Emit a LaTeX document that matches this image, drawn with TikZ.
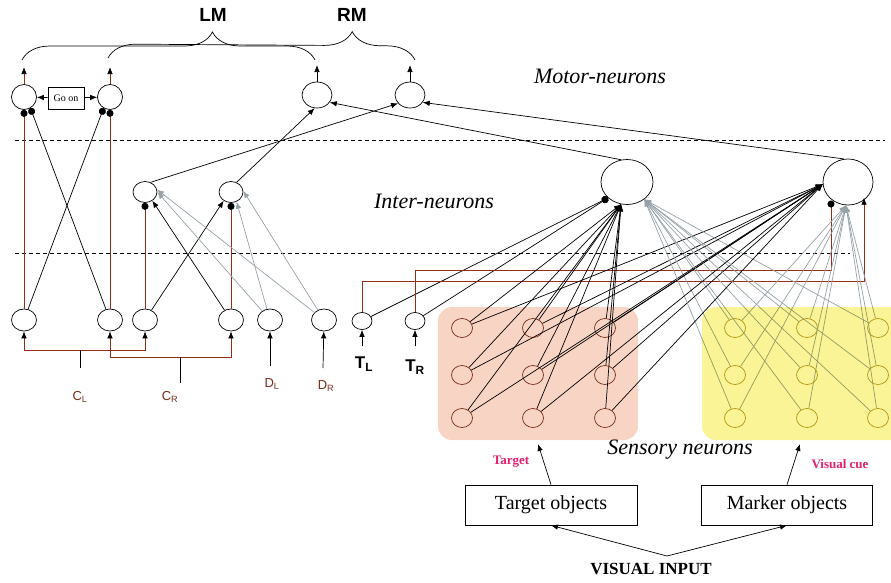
\documentclass[tikz,border=0pt]{standalone}
\usepackage{fontspec}
\setmainfont{Liberation Serif}
\setsansfont{Liberation Sans}
\usetikzlibrary{shapes.geometric,arrows.meta,decorations.pathreplacing}

\definecolor{synred}{RGB}{150,45,25}
\definecolor{syngray}{RGB}{150,162,168}
\definecolor{pinkbg}{RGB}{248,212,196}
\definecolor{yellowbg}{RGB}{250,244,150}
\definecolor{olivecell}{RGB}{185,155,30}
\definecolor{browncell}{RGB}{120,45,25}
\definecolor{cuepink}{RGB}{228,30,110}

\begin{document}
\begin{tikzpicture}[x=1pt, y=-1pt, line width=0.7pt,
    >={Latex[length=7pt,width=5.5pt,black]},
    neuron/.style={draw, ellipse, inner sep=0pt, minimum width=25pt, minimum height=22pt},
    small/.style={neuron, minimum width=20pt, minimum height=17pt},
    tgtcell/.style={draw=browncell, ellipse, inner sep=0pt, minimum width=21pt, minimum height=19pt},
    mrkcell/.style={draw=olivecell, ellipse, inner sep=0pt, minimum width=21pt, minimum height=19pt},
    redline/.style={draw=synred},
    grayline/.style={draw=syngray, >={Latex[length=7pt,width=5.5pt,syngray]}},
    inhib/.style={-{Circle[length=7pt,black]}},
    layer/.style={font=\itshape\fontsize{22}{26}\selectfont},
    inlabel/.style={font=\sffamily\fontsize{13}{15}\selectfont, text=browncell},
    tlabel/.style={font=\sffamily\bfseries\fontsize{17}{20}\selectfont},
    cue/.style={font=\bfseries\fontsize{13}{15}\selectfont, text=cuepink},
    objbox/.style={draw, rectangle, minimum height=40pt, font=\fontsize{20}{24}\selectfont}]
    \useasboundingbox (0,0) rectangle (891,582);

    % Nodes
    \node[fill=pinkbg, rounded corners=14pt, inner sep=0pt, minimum width=200pt, minimum height=133pt] (tbox) at (538,373.5) {};

    \node[neuron, minimum height=25pt] (m1) at (24,97) {};
    \node[neuron, minimum height=25pt] (m2) at (110,97) {};
    \node[neuron, minimum width=30pt, minimum height=26pt] (m3) at (317,95) {};
    \node[neuron, minimum width=30pt, minimum height=26pt] (m4) at (410,95) {};
    \node[draw, rectangle, minimum width=36pt, minimum height=22pt, font=\fontsize{10}{12}\selectfont] (goon) at (66,98) {Go on};

    \node[neuron, minimum width=24pt, minimum height=21pt] (s1) at (145,192) {};
    \node[neuron, minimum width=24pt, minimum height=21pt] (s2) at (231,192) {};
    \node[neuron, minimum width=52pt, minimum height=45pt] (b1) at (627,182) {};
    \node[neuron, minimum width=50pt, minimum height=46pt] (b2) at (848,182) {};

    \node[neuron] (c1) at (24,320) {};
    \node[neuron] (c2) at (110,320) {};
    \node[neuron] (c3) at (145,320) {};
    \node[neuron] (c4) at (231,320) {};
    \node[neuron] (dl) at (270,320) {};
    \node[neuron] (dr) at (324,320) {};
    \node[small] (tl) at (362,321) {};
    \node[small] (tr) at (415,321) {};

    \foreach \r/\y in {1/328,2/375,3/418} {
        \foreach \c/\x in {1/462,2/533,3/605}
            \node[tgtcell] (t\r\c) at (\x,\y) {};
        \foreach \c/\x in {1/735,2/807,3/878}
            \node[mrkcell] (y\r\c) at (\x,\y) {};
    }

    \node[font=\sffamily\bfseries\fontsize{19}{22}\selectfont] (lm) at (213,15) {LM};
    \node[font=\sffamily\bfseries\fontsize{19}{22}\selectfont] (rm) at (352,15) {RM};
    \node[layer] (motorlab) at (600,76) {Motor-neurons};
    \node[layer] (interlab) at (434,201) {Inter-neurons};
    \node[layer] (senslab) at (680,450) {Sensory neurons};

    \node[inlabel] (cllab) at (80,397) {C\textsubscript{L}};
    \node[inlabel] (crlab) at (170,397) {C\textsubscript{R}};
    \node[inlabel] (dllab) at (272,384) {D\textsubscript{L}};
    \node[inlabel] (drlab) at (326,386) {D\textsubscript{R}};
    \node[tlabel] (tllab) at (364,364) {T\textsubscript{L}};
    \node[tlabel] (trlab) at (415,367) {T\textsubscript{R}};

    \node[objbox, minimum width=172pt] (tobj) at (551,505) {Target objects};
    \node[objbox, minimum width=171pt] (mobj) at (787,505) {Marker objects};
    \node[cue] (tcue) at (511,462) {Target};
    \node[cue] (mcue) at (840,464) {Visual cue};
    \node[font=\bfseries\fontsize{17}{20}\selectfont] (vis) at (651,569) {VISUAL INPUT};

    \coordinate (m1o) at (24,67);
    \coordinate (m2o) at (110,67);
    \coordinate (m3o) at (317,65);
    \coordinate (m4o) at (410,65);
    \coordinate (clj) at (80,350);
    \coordinate (cls) at (80,368);
    \coordinate (crj) at (180,357);
    \coordinate (crs) at (180,383);
    \coordinate (dlin) at (270,366);
    \coordinate (drin) at (323,368);
    \coordinate (tlin) at (362,346);
    \coordinate (trin) at (415,346);
    \coordinate (tlbend) at (864,281);
    \coordinate (trbend) at (831,270);
    \coordinate (tin) at (538,444);
    \coordinate (min) at (800,444);
    \coordinate (vin) at (667,556);

    % Braces and layer borders
    \draw[decorate, decoration={brace, amplitude=28pt, aspect=0.65}] (22,60) -- (315,60);
    \draw[decorate, decoration={brace, amplitude=28pt, aspect=0.795}] (108,58) -- (415,60);
    \draw[dash pattern=on 4pt off 3pt] (15,140) -- (885,140);
    \draw[dash pattern=on 4pt off 3pt] (15,253) -- (850,253);

    % Arrows
    \draw[redline,->] (m1) -- (m1o);
    \draw[redline,->] (m2) -- (m2o);
    \draw[->] (m3) -- (m3o);
    \draw[->] (m4) -- (m4o);
    \draw[->] (goon) -- (m1);
    \draw[->] (goon) -- (m2);

    \draw[redline,inhib] (c1) -- (m1);
    \draw[inhib] (c2) -- (m1.-60);
    \draw[inhib] (c1) -- (m2.-120);
    \draw[redline,inhib] (c2) -- (m2);

    \draw[redline,inhib] (c3) -- (s1);
    \draw[->] (c4) -- (s1.-50);
    \draw[->] (c3) -- (s2.-130);
    \draw[redline,inhib] (c4) -- (s2);
    \draw[grayline,->] (dl) -- (s1.0);
    \draw[grayline,->] (dr) -- (s1.12);
    \draw[grayline,->] (dl) -- (s2.-60);
    \draw[grayline,->] (dr) -- (s2.5);
    \draw[->] (s1.60) -- (m4.215);
    \draw[->] (s2.60) -- (m3.-100);
    \draw[->] (b1.105) -- (m3.-30);
    \draw[->] (b2.100) -- (m4.-30);

    \draw[redline,->] (clj) -| (c1);
    \draw[redline,->] (clj) -| (c3);
    \draw (cls) -- (clj);
    \draw[redline,->] (crj) -| (c2);
    \draw[redline,->] (crj) -| (c4);
    \draw (crs) -- (crj);
    \draw[->] (dlin) -- (dl);
    \draw[->] (drin) -- (dr);
    \draw[->] (tlin) -- (tl);
    \draw[->] (trin) -- (tr);

    \draw[inhib] (tl) -- (b1.-140);
    \draw[inhib] (tr) -- (b1.-140);
    \draw[redline,->] (tl.north) |- (tlbend) -- (tlbend |- b2.-40);
    \draw[redline,inhib] (tr.north) |- (trbend) -- (trbend |- b2.-130);

    \foreach \r in {1,2,3} {
        \foreach \c in {1,2,3} {
            \draw[->] (t\r\c) -- (b1.-105);
            \draw[->] (t\r\c) -- (b2.185);
            \draw[grayline,->] (y\r\c) -- (b1.-45);
            \draw[grayline,->] (y\r\c) -- (b2.-95);
        }
    }

    \begin{scope}[blend mode=multiply]
        \node[fill=yellowbg, rounded corners=14pt, inner sep=0pt, minimum width=203pt, minimum height=133pt] (mbox) at (803.5,373.5) {};
    \end{scope}

    \draw[->] (tobj.north) -- (tin);
    \draw[->] (mobj.north) -- (min);
    \draw[->] (vin) -- (tobj.south);
    \draw[->] (vin) -- (mobj.south);
\end{tikzpicture}
\end{document}
